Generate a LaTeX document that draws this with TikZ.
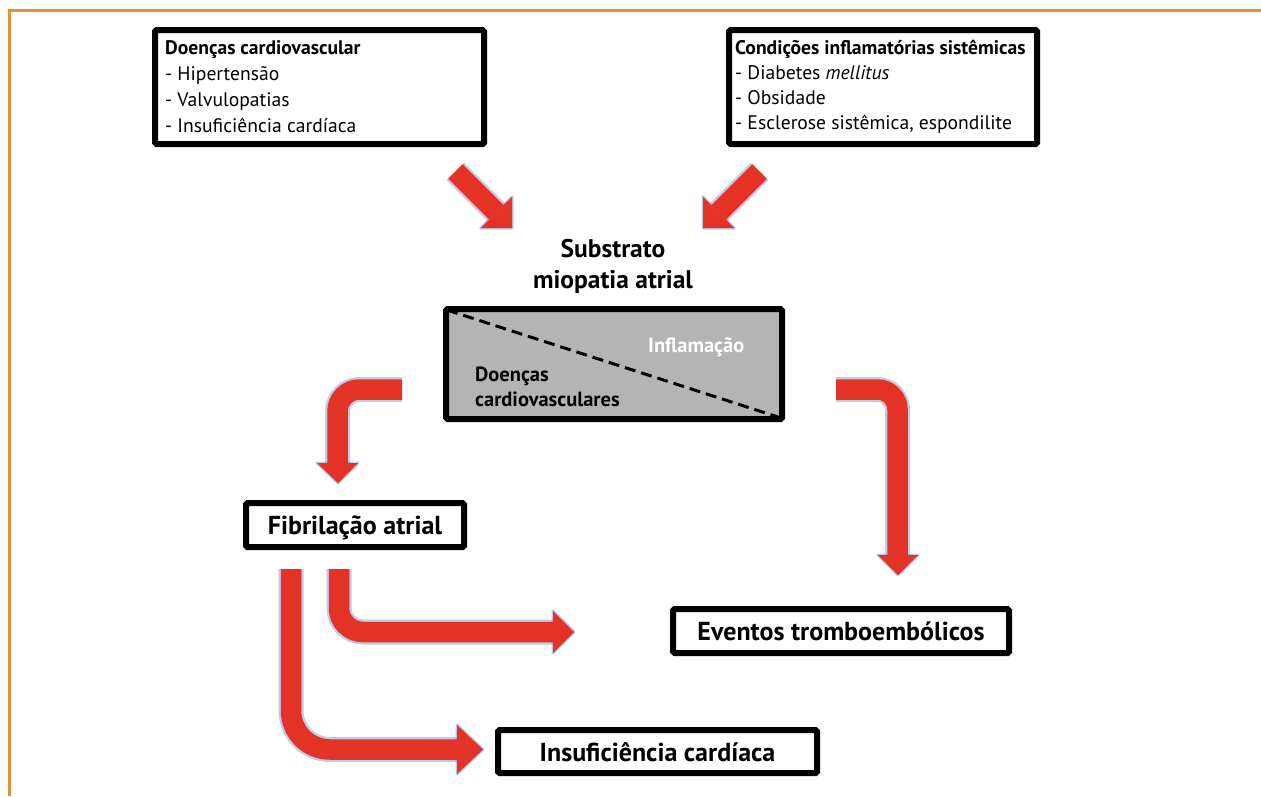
\documentclass[tikz,border=0pt]{standalone}
\usepackage{fontspec}
\setmainfont{PT Sans}
\usetikzlibrary{calc}
\definecolor{frameor}{RGB}{229,146,52}
\definecolor{arrred}{RGB}{229,50,39}
\definecolor{glowc}{RGB}{112,140,205}
\definecolor{boxgray}{RGB}{180,180,180}
\tikzset{
  blackbox/.style={draw=black, line width=6pt, rounded corners=1.5pt, inner sep=0pt, fill=white},
  listtext/.style={inner sep=0pt, align=left, font=\fontsize{19.6}{26}\selectfont},
  bigtext/.style={font=\bfseries\fontsize{26}{30}\selectfont, text depth=0pt},
  midtext/.style={inner sep=0pt, font=\bfseries\fontsize{20.5}{25}\selectfont},
}
\newcommand\fatarrow[3]{%
  \draw[line width=25pt, glowc, opacity=.45, rounded corners=#1] #2;
  \filldraw[glowc, opacity=.45, line width=3pt, line join=round] #3 -- cycle;
  \draw[line width=20.5pt, arrred, rounded corners=#1] #2;
  \fill[arrred] #3 -- cycle;
}
\begin{document}
\begin{tikzpicture}[x=1pt,y=-1pt]
\useasboundingbox (0,0) rectangle (1261,796);
\fill[white] (0,0) rectangle (1261,796);
% frame
\draw[frameor, line width=3pt] (9,796) -- (9,10) -- (1261,10);

% top boxes
\node[blackbox, minimum width=329pt, minimum height=114pt] (A) at (319.5,87) {};
\node[listtext, anchor=west] (At) at ([xshift=13pt]A.west)
  {\textbf{Doenças cardiovascular}\\- Hipertensão\\- Valvulopatias\\- Insuficiência cardíaca};
\node[blackbox, minimum width=308pt, minimum height=114pt] (B) at (883,87) {};
\node[listtext, anchor=west, font=\fontsize{19.6}{25}\selectfont] (Bt) at ([xshift=9pt]B.west)
  {\textbf{Condições inflamatórias sistêmicas}\\- Diabetes \textit{mellitus}\\- Obsidade\\- Esclerose sistêmica, espondilite};

% substrate
\node[font=\bfseries\fontsize{25.5}{31}\selectfont, align=center, inner sep=0pt] (T) at (613,266) {Substrato\\miopatia atrial};
\node[blackbox, fill=boxgray, minimum width=336pt, minimum height=110pt] (S) at (614,364) {};
\draw[line width=3pt, dash pattern=on 11pt off 6pt] ([shift={(4,4)}]S.north west) -- ([shift={(-4,-4)}]S.south east);
\node[midtext, text=white, anchor=base west] (Si) at (648,352) {Inflamação};
\node[midtext, align=left, anchor=west] (Sd) at (475,387) {Doenças\\cardiovasculares};

% outcome boxes
\node[blackbox, bigtext, minimum width=218pt, minimum height=44pt] (F) at (355,525) {Fibrilação atrial};
\node[blackbox, bigtext, minimum width=336pt, minimum height=44pt] (E) at (841,631) {Eventos tromboembólicos};
\node[blackbox, bigtext, minimum width=319pt, minimum height=43pt] (I) at (657.5,751.5) {Insuficiência cardíaca};

% arrow coordinates
\coordinate (a1) at (455.4,171.4);
\coordinate (a2) at (496.4,212.4);
\coordinate (b1) at (759.6,171.4);
\coordinate (b2) at (718.6,212.4);
\coordinate (c1) at (402,389.5);
\coordinate (c2) at (337.5,389.5);
\coordinate (c3) at (337.5,463);
\coordinate (f1) at (836,389.5);
\coordinate (f2) at (897.5,389.5);
\coordinate (f3) at (897.5,555);
\coordinate (d1) at (339,569);
\coordinate (d2) at (339,632);
\coordinate (d3) at (553,632);
\coordinate (e1) at (291,569);
\coordinate (e2) at (291,749.5);
\coordinate (e3) at (457,749.5);

\fatarrow{0pt}{(a1) -- (a2)}{(512,196.8) -- (512,228) -- (480.8,228)}
\fatarrow{0pt}{(b1) -- (b2)}{(703,196.8) -- (703,228) -- (734.2,228)}
\fatarrow{22pt}{(c1) -- (c2) -- (c3)}{(317,463) -- (338,483) -- (358,463)}
\fatarrow{20pt}{(f1) -- (f2) -- (f3)}{(878,555) -- (898,575) -- (918,555)}
\fatarrow{24pt}{(d1) -- (d2) -- (d3)}{(553,611) -- (574,632) -- (553,653)}
\fatarrow{39pt}{(e1) -- (e2) -- (e3)}{(457,725) -- (483,749.5) -- (457,774)}
\end{tikzpicture}
\end{document}
